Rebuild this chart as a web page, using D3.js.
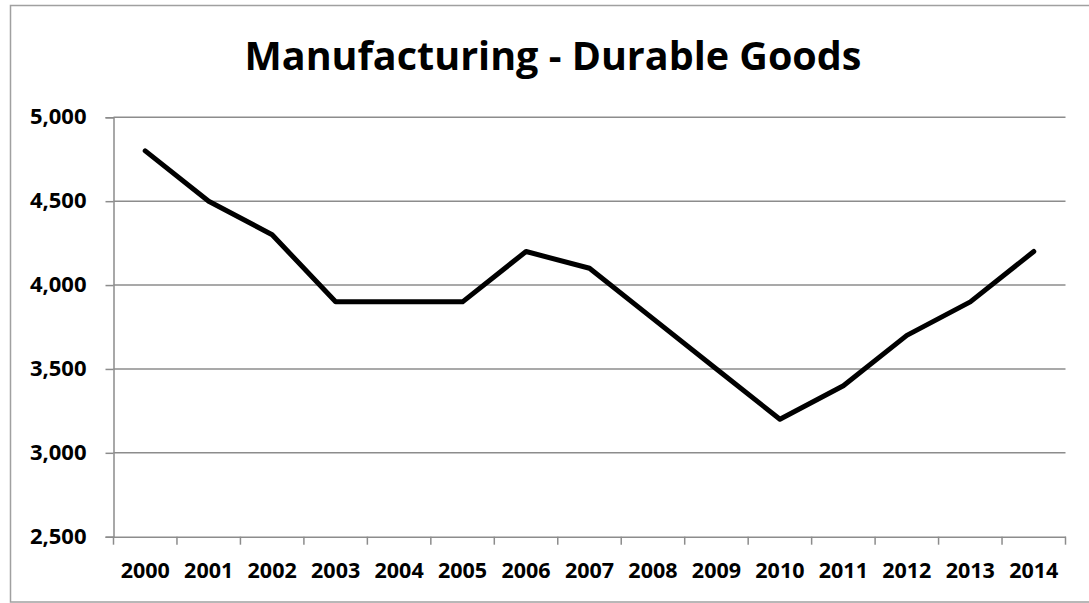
<!DOCTYPE html>
<html>
<head>
<meta charset="utf-8">
<script src="https://cdn.jsdelivr.net/npm/d3@7"></script>
<style>
  html, body { margin: 0; padding: 0; background: #fff; }
  svg { display: block; }
  text { font-family: "Open Sans", "Liberation Sans", sans-serif; font-weight: bold; fill: #000; }
</style>
</head>
<body>
<svg id="chart" width="1089" height="603"></svg>
<script>
const title = "Manufacturing - Durable Goods";
const years = ["2000","2001","2002","2003","2004","2005","2006","2007","2008","2009","2010","2011","2012","2013","2014"];
const values = [4800, 4500, 4300, 3900, 3900, 3900, 4200, 4100, 3800, 3500, 3200, 3400, 3700, 3900, 4200];
const yTicks = [2500, 3000, 3500, 4000, 4500, 5000];

const svg = d3.select("#chart");
const W = 1089, H = 603;
const plot = { left: 113.5, right: 1065.5, top: 117.3, bottom: 536.7 };

// outer border
svg.append("rect")
  .attr("x", 10.5).attr("y", 5.5)
  .attr("width", W + 10).attr("height", 596.5)
  .attr("fill", "#fff").attr("stroke", "#a0a0a0").attr("stroke-width", 1.5);

const x = d3.scaleBand().domain(years).range([plot.left, plot.right]).padding(0);
const y = d3.scaleLinear().domain([2500, 5000]).range([plot.bottom, plot.top]);

// gridlines
svg.append("g").selectAll("line").data(yTicks.filter(d => d !== 2500)).join("line")
  .attr("x1", plot.left).attr("x2", plot.right)
  .attr("y1", d => y(d)).attr("y2", d => y(d))
  .attr("stroke", "#8c8c8c").attr("stroke-width", 1.5);

// y axis
const yAxis = svg.append("g")
  .attr("transform", `translate(${plot.left},0)`)
  .call(d3.axisLeft(y).tickValues(yTicks).tickSize(8).tickPadding(19).tickFormat(d3.format(",")));
yAxis.select(".domain").attr("stroke", "#8c8c8c").attr("stroke-width", 1.5);
yAxis.selectAll(".tick line").attr("stroke", "#8c8c8c").attr("stroke-width", 1.5);
yAxis.selectAll(".tick text").attr("font-size", "22px").attr("font-family", "Open Sans").attr("font-weight", "bold").attr("fill", "#000").attr("dy", "0.3em");

// x axis
const xAxis = svg.append("g")
  .attr("transform", `translate(0,${plot.bottom})`)
  .call(d3.axisBottom(x).tickSize(0).tickPadding(26));
xAxis.select(".domain").attr("stroke", "#8c8c8c").attr("stroke-width", 1.5);
xAxis.selectAll(".tick text").attr("font-size", "21.5px").attr("font-family", "Open Sans").attr("font-weight", "bold").attr("fill", "#000");
// boundary tick marks between categories
const bounds = years.map(d => x(d)).concat([x(years[years.length - 1]) + x.bandwidth()]);
xAxis.append("g").selectAll("line").data(bounds).join("line")
  .attr("x1", d => d).attr("x2", d => d)
  .attr("y1", 0).attr("y2", 8)
  .attr("stroke", "#8c8c8c").attr("stroke-width", 1.5);

// line
const line = d3.line()
  .x((d, i) => x(years[i]) + x.bandwidth() / 2)
  .y(d => y(d));
svg.append("path")
  .datum(values)
  .attr("d", line)
  .attr("fill", "none")
  .attr("stroke", "#000")
  .attr("stroke-width", 5)
  .attr("stroke-linejoin", "round")
  .attr("stroke-linecap", "round");

// title
svg.append("text")
  .attr("x", 553).attr("y", 69.5)
  .attr("text-anchor", "middle")
  .attr("font-size", "39.5px")
  .text(title);
</script>
</body>
</html>
